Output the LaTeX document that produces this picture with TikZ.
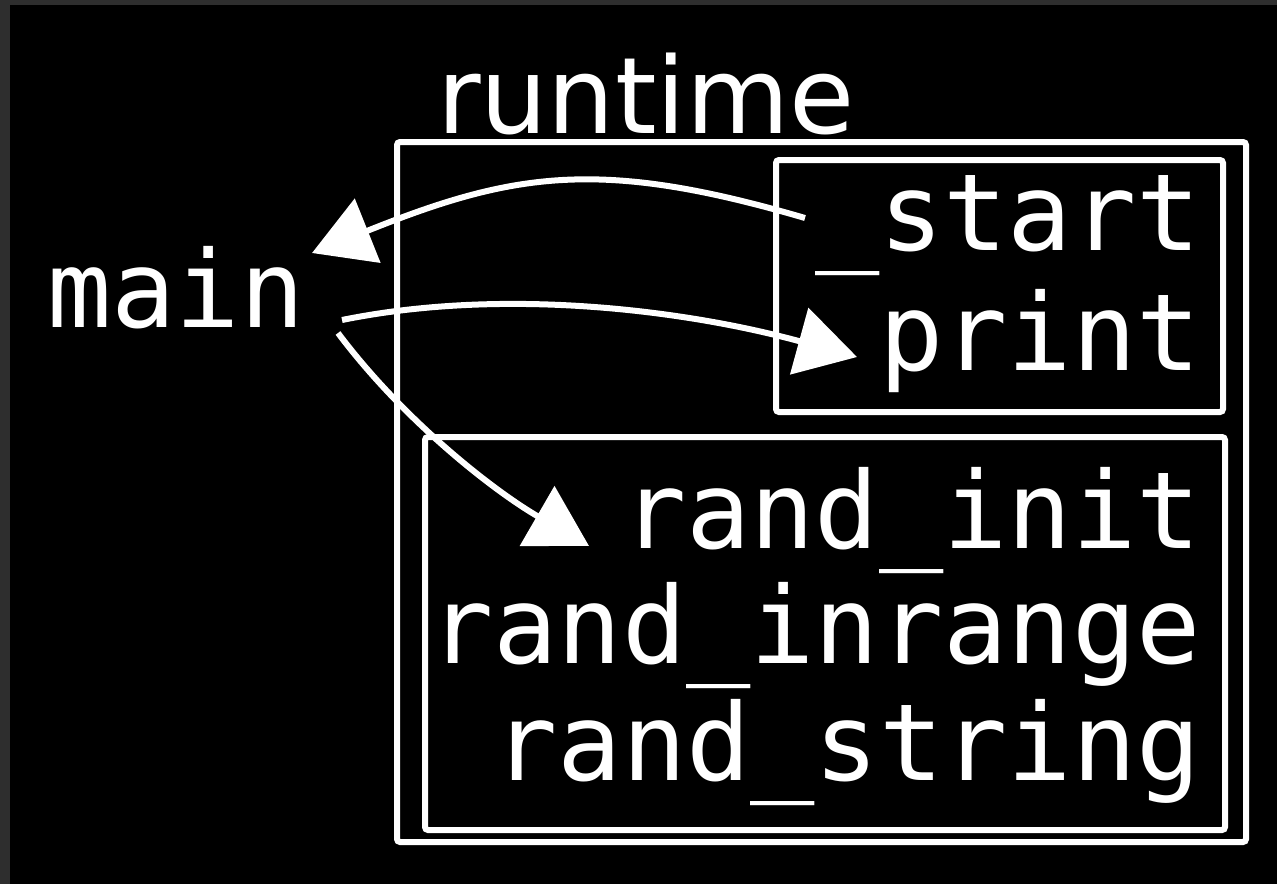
\documentclass[tikz,border=0pt]{standalone}
\usepackage{fontspec}
\setmainfont{DejaVu Sans}
\newfontfamily\codefont{DejaVu Sans Mono}
\usetikzlibrary{arrows.meta}
\tikzset{
  box/.style={draw=white, line width=6pt, rounded corners=3pt, inner sep=0pt},
  fn/.style={text=white, inner sep=0pt, anchor=base east, font=\codefont\fontsize{106.8}{124}\selectfont},
  call/.style={draw=white, line width=6pt, -{Triangle[length=60pt, width=68pt]}},
}
\begin{document}
\begin{tikzpicture}[x=1pt, y=-1pt]
  % frame and background
  \fill[fill={rgb,255:red,46;green,46;blue,46}] (0,0) rectangle (1277,884);
  \fill[black] (10,5) rectangle (1277,884);
  \useasboundingbox (0,0) rectangle (1277,884);

  % module boxes
  \node[box, minimum width=849pt, minimum height=700pt] (runtimebox) at (821.5,492) {};
  \node[box, minimum width=447pt, minimum height=252pt] (corebox) at (999.5,286) {};
  \node[box, minimum width=800pt, minimum height=393pt] (randbox) at (825,633.5) {};

  % labels
  \node[text=white, inner sep=0pt, anchor=base west, font=\fontsize{106}{124}\selectfont] (runtime) at (437,133) {runtime};
  \node[fn, anchor=base west] (main) at (47,327) {main};
  \node[fn] (start) at (1201,250) {\_start};
  \node[fn] (print) at (1201,370) {print};
  \node[fn] (randinit) at (1201,548) {rand\_init};
  \node[fn] (randinrange) at (1201,663) {rand\_inrange};
  \node[fn] (randstring) at (1201,780) {rand\_string};

  % connector end points
  \coordinate (startout) at (805,218);
  \coordinate (mainin) at (312,253);
  \coordinate (mainout1) at (342,320);
  \coordinate (printin) at (857,357);
  \coordinate (mainout2) at (338,333);
  \coordinate (randinitin) at (589,546);

  % calls
  \draw[call] (startout) .. controls (600,158) and (514,172) .. (mainin);
  \draw[call] (mainout1) .. controls (509,286) and (693,312) .. (printin);
  \draw[call] (mainout2) .. controls (404,421) and (494,491) .. (randinitin);
\end{tikzpicture}
\end{document}
